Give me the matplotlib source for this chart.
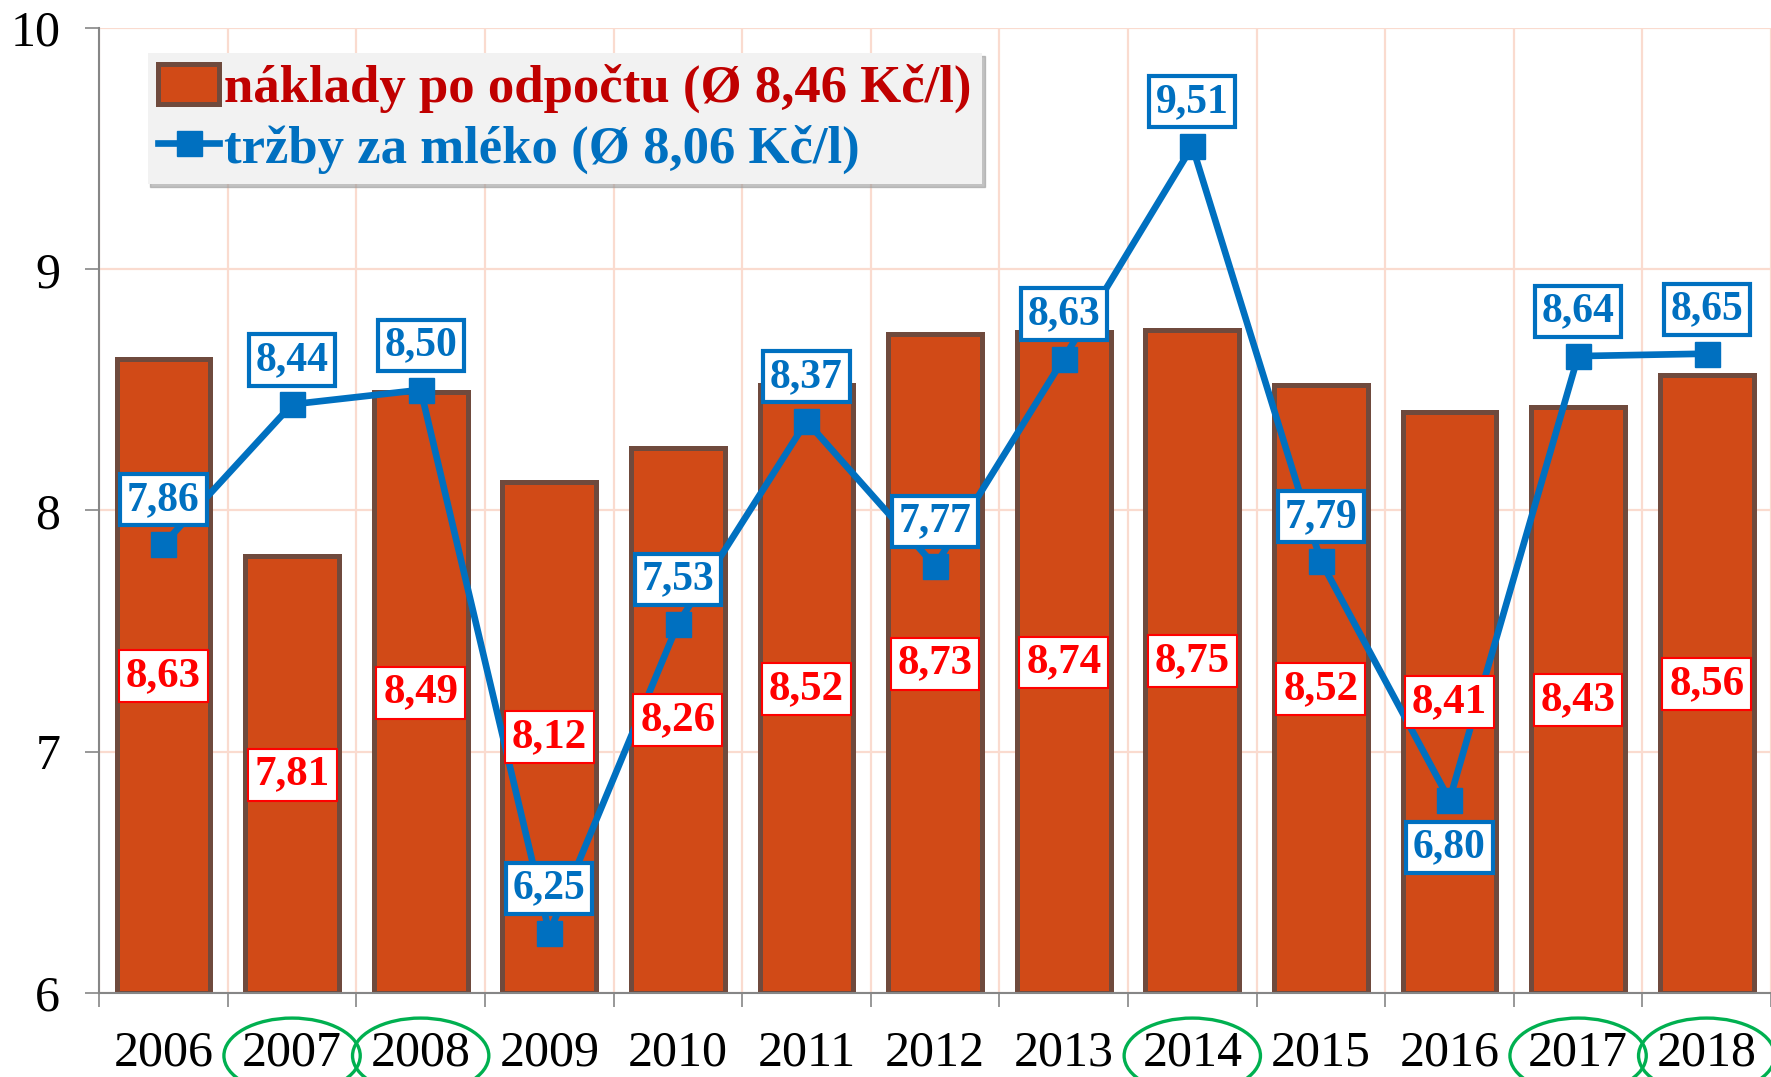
import matplotlib
matplotlib.use("Agg")
import matplotlib.pyplot as plt
from matplotlib.patches import Patch, Ellipse
from matplotlib.lines import Line2D
import matplotlib.transforms as mtransforms

years = ["2006", "2007", "2008", "2009", "2010", "2011", "2012",
         "2013", "2014", "2015", "2016", "2017", "2018"]
costs = [8.63, 7.81, 8.49, 8.12, 8.26, 8.52, 8.73, 8.74, 8.75, 8.52, 8.41, 8.43, 8.56]
revenue = [7.86, 8.44, 8.50, 6.25, 7.53, 8.37, 7.77, 8.63, 9.51, 7.79, 6.80, 8.64, 8.65]
highlighted = ["2007", "2008", "2014", "2017", "2018"]
labels_below = ["2016"]

cost_label = "náklady po odpočtu (Ø 8,46 Kč/l)"
revenue_label = "tržby za mléko (Ø 8,06 Kč/l)"

BAR = "#D14A17"
BAR_EDGE = "#6F4A3D"
BLUE = "#0070C0"
RED = "#FF0000"
DARKRED = "#C00000"
GRID = "#FADBCF"
AXIS = "#868686"
GREEN = "#00B050"

plt.rcParams['font.family'] = ['Liberation Serif', 'DejaVu Serif']

def fmt(v):
    return f"{v:.2f}".replace(".", ",")

fig = plt.figure(figsize=(17.71, 10.77), dpi=100)
ax = fig.add_axes([0.056, 0.078, 0.944, 0.896])

x = list(range(len(years)))
ax.bar(x, [c - 6 for c in costs], bottom=6, width=0.73, color=BAR,
       edgecolor=BAR_EDGE, linewidth=3.6, zorder=2)
ax.plot(x, revenue, color=BLUE, lw=4.8, marker="s", markersize=18, zorder=3)

for i, c in enumerate(costs):
    ax.text(i, (6 + c) / 2, fmt(c), ha="center", va="center", fontsize=31,
            fontweight="bold", color=RED, zorder=4,
            bbox=dict(boxstyle="square,pad=0.16", fc="white", ec=RED, lw=1.5))

for i, r in enumerate(revenue):
    dy = -34 if years[i] in labels_below else 32
    ax.annotate(fmt(r), (i, r), xytext=(0, dy), textcoords="offset points",
                ha="center", va="center", fontsize=30, fontweight="bold",
                color=BLUE, zorder=5,
                bbox=dict(boxstyle="square,pad=0.16", fc="white", ec=BLUE, lw=3))

ax.set_xlim(-0.5, len(years) - 0.5)
ax.set_ylim(6, 10)
ax.set_yticks([6, 7, 8, 9, 10])
ax.set_yticklabels(["6", "7", "8", "9", "10"])
ax.set_xticks(x)
ax.set_xticklabels(years)
ax.set_xticks([i + 0.5 for i in range(-1, len(years))], minor=True)

ax.tick_params(axis="x", which="major", length=0, pad=27, labelsize=36)
ax.tick_params(axis="x", which="minor", length=10, width=1.2, color=AXIS)
ax.tick_params(axis="y", which="major", length=10, width=1.2, color=AXIS,
               pad=18, labelsize=36)

ax.set_axisbelow(True)
ax.grid(True, axis="y", which="major", color=GRID, lw=1.6)
ax.grid(True, axis="x", which="minor", color=GRID, lw=1.6)
for s in ["top", "right"]:
    ax.spines[s].set_visible(False)
for s in ["left", "bottom"]:
    ax.spines[s].set_color(AXIS)
    ax.spines[s].set_linewidth(1.5)

# green ellipses round highlighted years
trans = mtransforms.blended_transform_factory(ax.transData, ax.transAxes)
for y in highlighted:
    i = years.index(y)
    ax.add_patch(Ellipse((i, -0.065), 1.06, 0.078, transform=trans,
                         fill=False, ec=GREEN, lw=2.4, clip_on=False))

handles = [Patch(facecolor=BAR, edgecolor=BAR_EDGE, linewidth=3.6),
           Line2D([], [], color=BLUE, lw=4.8, marker="s", markersize=18)]
leg = ax.legend(handles, [cost_label, revenue_label], loc="upper left",
                bbox_to_anchor=(0.029, 0.974), borderaxespad=0,
                prop=dict(size=38, weight="bold"), frameon=True,
                fancybox=False, facecolor="#F2F2F2", edgecolor="none",
                framealpha=1, shadow={"color": "#9a9a9a", "alpha": 0.6},
                handlelength=1.15, handleheight=0.8, handletextpad=0.1,
                labelspacing=0.2, borderpad=0.2)
leg.set_zorder(6)
for t, col in zip(leg.get_texts(), [DARKRED, BLUE]):
    t.set_color(col)

fig.savefig("out.png", dpi=100)
